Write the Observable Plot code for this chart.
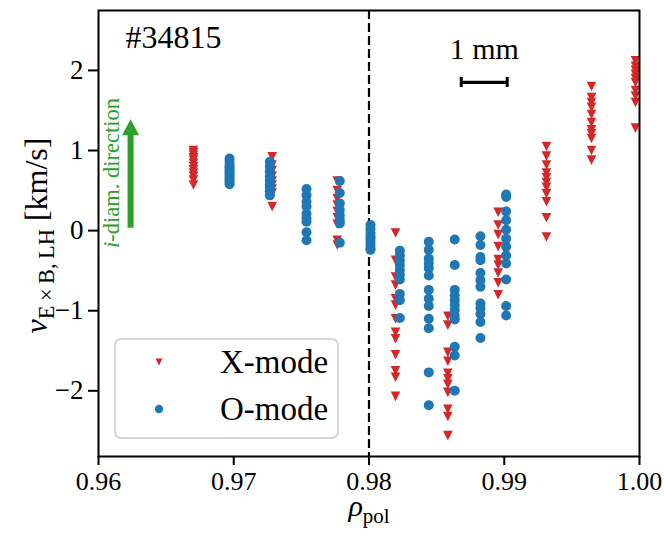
<!DOCTYPE html>
<html><head><meta charset="utf-8">
<script src="https://cdn.jsdelivr.net/npm/d3@7"></script>
<script src="https://cdn.jsdelivr.net/npm/@observablehq/plot@0.6"></script>
<style>
html,body{margin:0;padding:0;background:#fff;}
#wrap{position:relative;width:664px;height:538px;font-family:"Liberation Serif",serif;}
#legend{position:absolute;left:114px;top:338px;width:225px;height:101px;box-sizing:border-box;border:2px solid #d6d6d6;border-radius:7px;background:rgba(255,255,255,0.8);}
.lrow{position:absolute;left:0;height:40px;width:100%;}
.lrow svg{position:absolute;left:33px;top:10px;}
.lrow span{position:absolute;left:104px;top:0;line-height:40px;font-size:33px;color:#000;white-space:nowrap;}
</style></head><body><div id="wrap"></div>
<script>
// ---- data ----
const xModeRho = [0.96702, 0.97284, 0.97765, 0.98196, 0.98583, 0.98955, 0.99312, 0.99645, 0.99970];
const xModeVel = [
  [1.00, 0.97, 0.94, 0.91, 0.88, 0.84, 0.80, 0.76, 0.72, 0.68, 0.63, 0.57],
  [0.92, 0.82, 0.75, 0.68, 0.62, 0.57, 0.52, 0.47, 0.30],
  [0.62, 0.50, 0.40, 0.32, 0.24, 0.16, 0.08, -0.12, -0.18],
  [-0.03, -0.37, -0.58, -0.68, -0.85, -0.93, -1.10, -1.27, -1.35, -1.55, -1.75, -1.83, -2.07],
  [-1.07, -1.18, -1.52, -1.63, -1.78, -1.85, -1.92, -2.02, -2.23, -2.32, -2.56],
  [0.23, 0.07, -0.05, -0.20, -0.36, -0.43, -0.53, -0.65, -0.80],
  [1.05, 0.93, 0.82, 0.72, 0.66, 0.60, 0.54, 0.46, 0.36, 0.16, -0.08],
  [1.80, 1.66, 1.60, 1.54, 1.45, 1.35, 1.26, 1.21, 1.15, 1.00, 0.88],
  [2.12, 2.05, 2.00, 1.95, 1.90, 1.85, 1.75, 1.68, 1.60, 1.28]
];
const oModeRho = [0.96969, 0.97267, 0.97538, 0.97784, 0.98011, 0.98228, 0.98442, 0.98634, 0.98824, 0.99014];
const oModeVel = [
  [0.90, 0.86, 0.82, 0.79, 0.76, 0.73, 0.70, 0.67, 0.64, 0.61, 0.58],
  [0.86, 0.80, 0.74, 0.68, 0.63, 0.58, 0.54, 0.49, 0.44],
  [0.52, 0.44, 0.36, 0.30, 0.21, 0.15, 0.11, -0.02, -0.12],
  [0.62, 0.47, 0.34, 0.26, 0.19, 0.13, 0.09, -0.15],
  [0.07, 0.02, -0.03, -0.07, -0.10, -0.14, -0.18, -0.22, -0.24],
  [-0.25, -0.31, -0.37, -0.43, -0.49, -0.55, -0.61, -0.79, -0.87, -1.09],
  [-0.14, -0.24, -0.35, -0.41, -0.47, -0.56, -0.74, -0.85, -0.94, -1.10, -1.22, -1.77, -2.18],
  [-0.11, -0.43, -0.74, -0.81, -0.87, -0.93, -0.99, -1.06, -1.11, -1.45, -1.56, -2.00],
  [-0.07, -0.18, -0.33, -0.37, -0.53, -0.62, -0.70, -0.91, -0.97, -1.04, -1.14, -1.34],
  [0.45, 0.42, 0.24, 0.13, 0.01, -0.10, -0.20, -0.31, -0.41, -0.61, -0.94, -1.06]
];
const seriesNames = ["X-mode", "O-mode"];
const seriesColors = ["#d62728", "#1f77b4"];
const xTicks = [0.96, 0.97, 0.98, 0.99, 1.00];
const yTicks = [-2, -1, 0, 1, 2];
const xDomain = [0.96, 1.00];
const yDomain = [-2.82, 2.748];
const separatrixRho = [0.98];
const shotLabel = ["#34815"];
const shotPos = [0.9620, 2.414];
const scaleBarRho = [0.98682, 0.99022];
const scaleBarV = 1.85;
const scaleBarCap = 0.062;
const scaleBarLabel = ["1 mm"];
const scaleBarLabelV = 2.26;
const arrowRho = 0.96237;
const arrowV = [0.03, 1.19];
const arrowText = ["i-diam. direction"];
const arrowTextPos = [0.96098, 0.72];
const xLabel = ["ρpol"];
const yLabel = ["vE×B,LH [km/s]"];
const green = "#2ca02c";

const xPoints = xModeRho.flatMap((r, i) => xModeVel[i].map(v => ({rho: r, v})));
const oPoints = oModeRho.flatMap((r, i) => oModeVel[i].map(v => ({rho: r, v})));

const triDown = {draw(ctx, size) { const r = Math.sqrt(size / Math.PI); ctx.moveTo(0, r); ctx.lineTo(-r, -r); ctx.lineTo(r, -r); ctx.closePath(); }};
const arrowHead = {draw(ctx, size) { ctx.moveTo(0, -16); ctx.lineTo(8.5, 0); ctx.lineTo(-8.5, 0); ctx.closePath(); }};

const plot = Plot.plot({
  width: 664, height: 538,
  marginLeft: 98, marginRight: 25, marginTop: 10, marginBottom: 82,
  style: {fontFamily: '"Liberation Serif", serif', background: "white", color: "black", overflow: "visible"},
  x: {domain: xDomain},
  y: {domain: yDomain},
  marks: [
    Plot.ruleX(separatrixRho, {stroke: "black", strokeWidth: 2.2, strokeDasharray: "9,4"}),
    Plot.dot(xPoints, {x: "rho", y: "v", symbol: triDown, r: 4.8, fill: seriesColors[0], stroke: "none"}),
    Plot.dot(oPoints, {x: "rho", y: "v", r: 5, fill: seriesColors[1], stroke: "none"}),
    // arrow
    Plot.ruleX([arrowRho], {y1: arrowV[0], y2: arrowV[1], stroke: green, strokeWidth: 6}),
    Plot.dot([arrowRho], {x: d => d, y: arrowV[1], symbol: arrowHead, r: 5, fill: green, stroke: "none"}),
    Plot.text(arrowText, {x: arrowTextPos[0], y: arrowTextPos[1], text: d => d, rotate: -90, fill: green, fontSize: 22.5, textAnchor: "middle"}),
    // shot number
    Plot.text(shotLabel, {x: shotPos[0], y: shotPos[1], text: d => d, fontSize: 32, textAnchor: "start", fill: "black"}),
    // scale bar
    Plot.ruleY([scaleBarV], {x1: scaleBarRho[0], x2: scaleBarRho[1], stroke: "black", strokeWidth: 3.2}),
    Plot.ruleX(scaleBarRho, {y1: scaleBarV - scaleBarCap, y2: scaleBarV + scaleBarCap, stroke: "black", strokeWidth: 3}),
    Plot.text(scaleBarLabel, {x: (scaleBarRho[0] + scaleBarRho[1]) / 2, y: scaleBarLabelV, text: d => d, fontSize: 30, fill: "black"}),
    // axes
    Plot.axisX({ticks: xTicks, tickFormat: d3.format(".2f"), tickSize: 9, tickPadding: 6, fontSize: 26, strokeWidth: 2, label: null}),
    Plot.axisY({ticks: yTicks, tickFormat: d3.format("d"), tickSize: 10, tickPadding: 5, fontSize: 27, strokeWidth: 2, label: null}),
    Plot.frame({stroke: "black", strokeWidth: 2}),
    Plot.text(yLabel, {frameAnchor: "left", dx: -62, dy: 2, rotate: -90, text: d => d, fontSize: 32, textAnchor: "middle", fill: "black"}),
    Plot.text(xLabel, {frameAnchor: "bottom", dy: 59, text: d => d, fontSize: 30, textAnchor: "middle", fill: "black"})
  ]
});

// rich text (italic symbols, subscripts)
function rich(svg, plain, parts, base) {
  d3.select(svg).selectAll("text").filter(function() { return this.textContent === plain; }).each(function() {
    const t = d3.select(this);
    t.text(null);
    let shifted = 0;
    parts.forEach(p => {
      const ts = t.append("tspan").text(p.t);
      if (p.italic) ts.attr("font-style", "italic");
      if (p.sub) { ts.attr("font-size", base * 0.7).attr("dy", base * 0.24 - shifted); shifted = base * 0.24; }
      else if (shifted) { ts.attr("dy", -shifted); shifted = 0; }
    });
  });
}
rich(plot, yLabel[0], [{t: "v", italic: true}, {t: "E\u2009×\u2009B,\u2009LH", sub: true}, {t: " [km/s]"}], 32);
rich(plot, xLabel[0], [{t: "ρ", italic: true}, {t: "pol", sub: true}], 30);
rich(plot, arrowText[0], [{t: "i", italic: true}, {t: "-diam. direction"}], 22.5);

const wrap = document.getElementById("wrap");
wrap.appendChild(plot);

// legend
const legend = d3.select(wrap).append("div").attr("id", "legend");
seriesNames.forEach((name, i) => {
  const row = legend.append("div").attr("class", "lrow").style("top", (i === 0 ? 2 : 49) + "px");
  const s = row.append("svg").attr("width", 20).attr("height", 20);
  if (i === 0) s.append("path").attr("d", "M10,13.5L6.5,6.5L13.5,6.5Z").attr("fill", seriesColors[i]);
  else s.append("circle").attr("cx", 10).attr("cy", 10).attr("r", 4.2).attr("fill", seriesColors[i]);
  row.append("span").text(name);
});
</script></body></html>
